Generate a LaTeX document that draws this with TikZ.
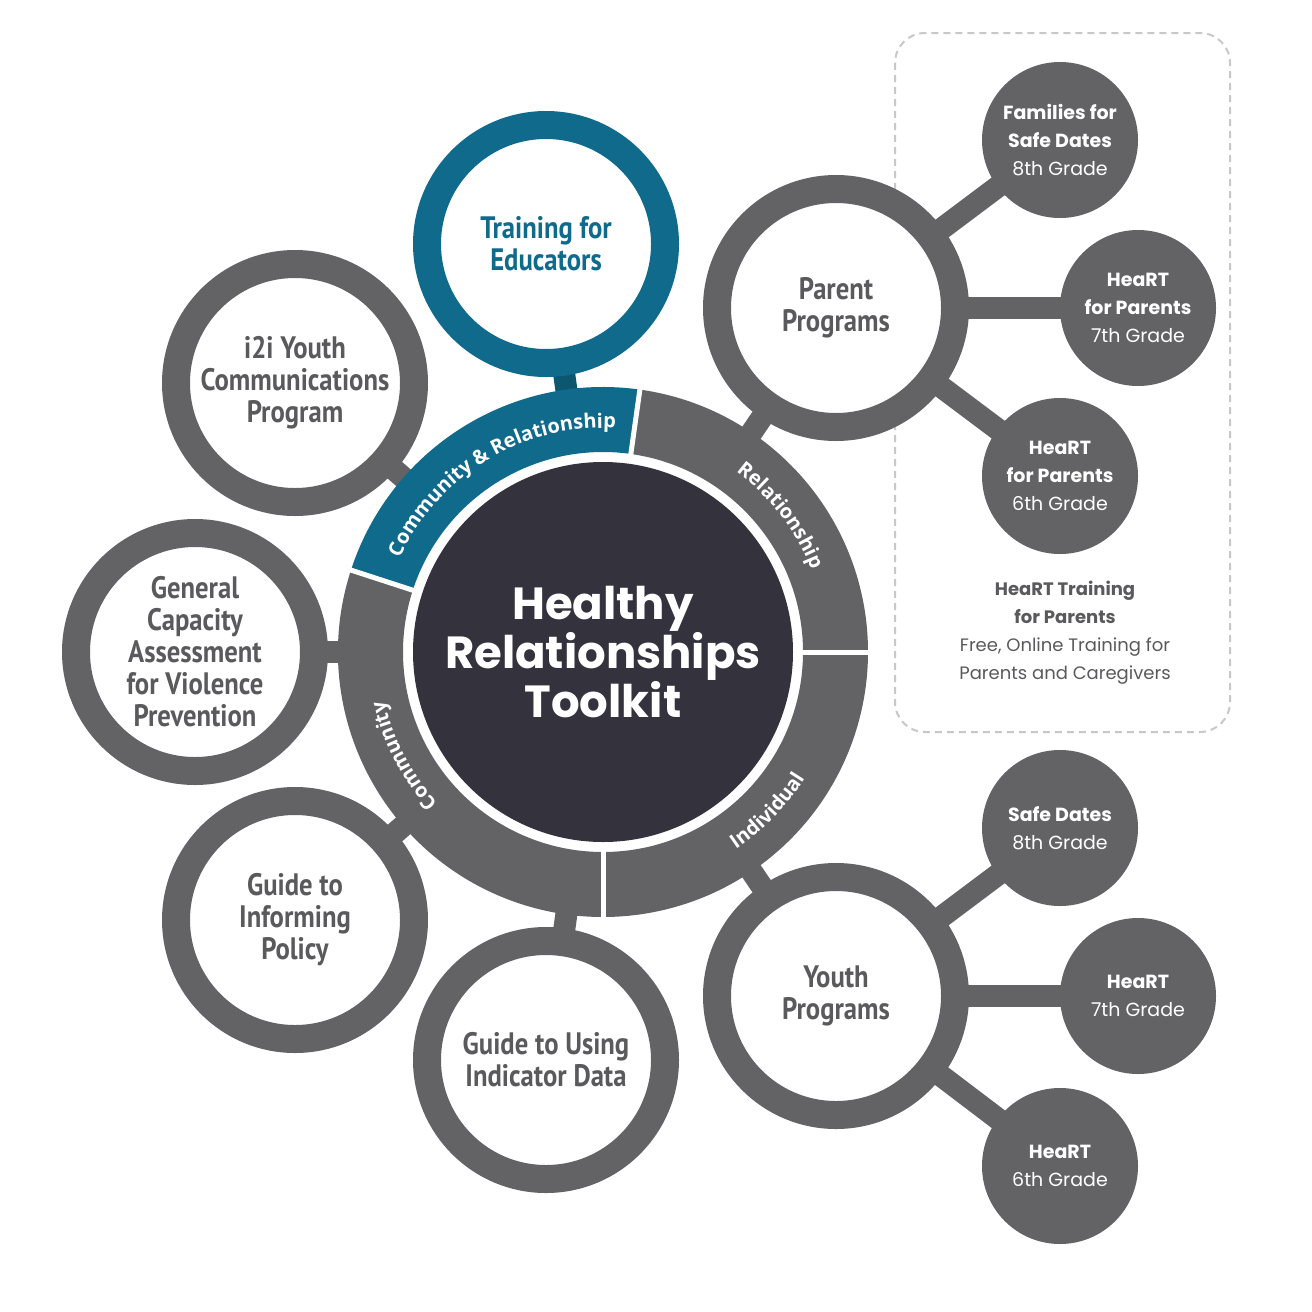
\documentclass[tikz,border=0pt]{standalone}
\usepackage{fontspec}
\setmainfont{PT Sans}
\newfontfamily\condfont{PT Sans}[FakeStretch=0.86]
\newfontfamily\titlefont{Poppins}
\newfontfamily\smallfont{Poppins}
\newfontfamily\ringfont{Open Sans}
\usetikzlibrary{decorations.text,calc}
\definecolor{gr}{HTML}{636366}
\definecolor{txtg}{HTML}{5A5A5C}
\definecolor{dark}{HTML}{34323D}
\definecolor{teal}{HTML}{0F6A8B}
\definecolor{tealdk}{HTML}{0C5670}
\definecolor{dashc}{HTML}{C8C8C8}
\begin{document}
\begin{tikzpicture}[x=1pt,y=1pt,
  conn/.style={line width=22pt,gr},
  ring/.style={circle,draw=gr,line width=28pt,fill=white,minimum size=238pt,inner sep=0pt,align=center,font=\condfont\fontsize{31}{32}\selectfont\bfseries,text=txtg},
  small/.style={circle,fill=gr,minimum size=156pt,inner sep=0pt,align=center,text=white,font=\smallfont\fontsize{19}{28}\selectfont},
  rtext/.style={decorate,decoration={text along path,text align=center,text color=white}}]
\useasboundingbox (0,0) rectangle (1312,-1312);
\fill[white] (0,0) rectangle (1312,-1312);
\draw[dashc,line width=2pt,dash pattern=on 7pt off 5pt,rounded corners=30pt] (895,-33) rectangle (1230,-732);
\coordinate (c) at (603,-652);
\coordinate (te) at (546,-244);
\coordinate (ii) at (295,-383);
\coordinate (gc) at (195,-652);
\coordinate (gp) at (295,-920);
\coordinate (gu) at (546,-1060);
\coordinate (pp) at (836,-308);
\coordinate (yp) at (836,-996);
\coordinate (f1) at (1060,-140);
\coordinate (f2) at (1138,-308);
\coordinate (f3) at (1060,-476);
\coordinate (s1) at (1060,-828);
\coordinate (s2) at (1138,-996);
\coordinate (s3) at (1060,-1166);
\draw[line width=22pt,tealdk] (c) -- (te);
\foreach \p in {ii,gc,gp,gu,pp,yp} \draw[conn] (c) -- (\p);
\foreach \p in {f1,f2,f3} \draw[conn] (pp) -- (\p);
\foreach \p in {s1,s2,s3} \draw[conn] (yp) -- (\p);
\fill[white] (c) circle[radius=264];
% ring sectors
\fill[gr] ($(c)+(0:265)$) arc[start angle=0,end angle=82,radius=265] -- ($(c)+(82:200)$) arc[start angle=82,end angle=0,radius=200] -- cycle;
\fill[teal] ($(c)+(82:265)$) arc[start angle=82,end angle=162,radius=265] -- ($(c)+(162:200)$) arc[start angle=162,end angle=82,radius=200] -- cycle;
\fill[gr] ($(c)+(162:265)$) arc[start angle=162,end angle=360,radius=265] -- ($(c)+(360:200)$) arc[start angle=360,end angle=162,radius=200] -- cycle;
\foreach \a in {0,82,162,270} \draw[white,line width=5pt] ($(c)+(\a:195)$) -- ($(c)+(\a:270)$);
\node[circle,fill=dark,minimum size=380pt,inner sep=0pt,align=center,text=white,font=\titlefont\bfseries\fontsize{45}{53}\selectfont] (ctr) at (c) {Healthy\\[-4pt]Relationships\\[-4pt]Toolkit};
% ring labels
\path[rtext,decoration={text={|\ringfont\bfseries\fontsize{20}{20}\selectfont|Community {\&} Relationship}}] ($(c)+(163:224)$) arc[start angle=163,end angle=79,radius=224];
\path[rtext,decoration={text={|\ringfont\bfseries\fontsize{20}{20}\selectfont|Relationship}}] ($(c)+(75:224)$) arc[start angle=75,end angle=0,radius=224];
\path[rtext,decoration={text={|\ringfont\bfseries\fontsize{20}{20}\selectfont|Individual}}] ($(c)+(280:238)$) arc[start angle=280,end angle=352,radius=238];
\path[rtext,decoration={text={|\ringfont\bfseries\fontsize{20}{20}\selectfont|Community}}] ($(c)+(250:224)$) arc[start angle=250,end angle=165,radius=224];
% outer rings
\node[ring,draw=teal,text=teal] (ten) at (te) {Training for\\Educators};
\node[ring] (iin) at (ii) {i2i Youth\\Communications\\Program};
\node[ring] (gcn) at (gc) {General\\Capacity\\Assessment\\for Violence\\Prevention};
\node[ring] (gpn) at (gp) {Guide to\\Informing\\Policy};
\node[ring] (gun) at (gu) {Guide to Using\\Indicator Data};
\node[ring] (ppn) at (pp) {Parent\\Programs};
\node[ring] (ypn) at (yp) {Youth\\Programs};
\node[small] (f1n) at (f1) {\textbf{Families for}\\\textbf{Safe Dates}\\8th Grade};
\node[small] (f2n) at (f2) {\textbf{HeaRT}\\\textbf{for Parents}\\7th Grade};
\node[small] (f3n) at (f3) {\textbf{HeaRT}\\\textbf{for Parents}\\6th Grade};
\node[small] (s1n) at (s1) {\textbf{Safe Dates}\\8th Grade};
\node[small] (s2n) at (s2) {\textbf{HeaRT}\\7th Grade};
\node[small] (s3n) at (s3) {\textbf{HeaRT}\\6th Grade};
\node[align=center,text=txtg,font=\smallfont\fontsize{18}{28}\selectfont] (ht) at (1065,-633) {\textbf{HeaRT Training}\\\textbf{for Parents}\\Free, Online Training for\\Parents and Caregivers};
\end{tikzpicture}
\end{document}
